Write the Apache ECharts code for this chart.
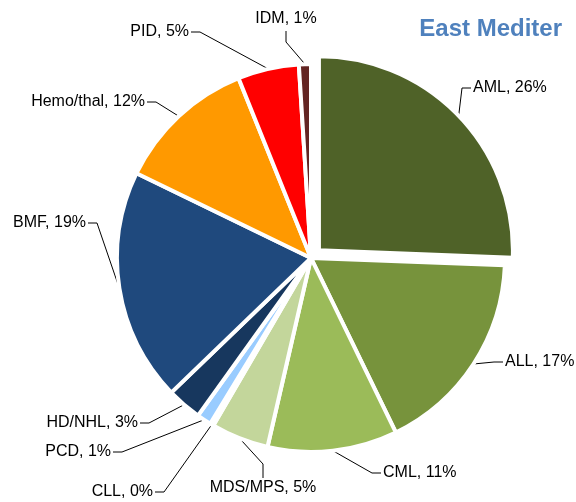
<!DOCTYPE html>
<html>
<head>
<meta charset="utf-8">
<script src="https://cdn.jsdelivr.net/npm/echarts@6/dist/echarts.min.js"></script>
<style>
  html, body { margin: 0; padding: 0; background: #fff; }
  #chart { width: 576px; height: 502px; }
</style>
</head>
<body>
<div id="chart"></div>
<script>
  // slice shares (percent of transplants), clockwise from 12 o'clock
  var categories = ["AML", "ALL", "CML", "MDS/MPS", "CLL", "PCD", "HD/NHL", "BMF", "Hemo/thal", "PID", "IDM"];
  var shares = [25.6, 17.2, 10.8, 4.8, 0.3, 1.2, 2.9, 19.4, 11.7, 5.1, 1.0];
  var sliceColors = ["#4F6228", "#77933C", "#9BBB59", "#C3D69B", "#D7E4BD", "#99CCFF",
                     "#17375E", "#1F497D", "#FF9900", "#FF0000", "#632523"];
  var explodedSlice = "AML";

  // where each label sits (text anchor), and which side the leader comes from
  var labelAnchors = {
    "AML":       [473, 88, "left"],
    "ALL":       [505, 362, "left"],
    "CML":       [383, 473, "left"],
    "MDS/MPS":   [263, 488, "below"],
    "CLL":       [153, 492, "right"],
    "PCD":       [111, 452, "right"],
    "HD/NHL":    [138, 423, "right"],
    "BMF":       [86, 223, "right"],
    "Hemo/thal": [145, 102, "right"],
    "PID":       [189, 32, "right"],
    "IDM":       [286, 19, "above"]
  };

  var CX = 311, CY = 258, R = 194, EXPLODE = 11;

  var chart = echarts.init(document.getElementById("chart"), null, { renderer: "canvas" });

  // exploded slice: its own pie, centre pushed out along the slice's mid angle
  var total = shares.reduce(function (a, b) { return a + b; }, 0);
  var exIdx = categories.indexOf(explodedSlice);
  var before = shares.slice(0, exIdx).reduce(function (a, b) { return a + b; }, 0);
  var midRad = (before + shares[exIdx] / 2) / total * 2 * Math.PI;
  var exCenter = [CX + EXPLODE * Math.sin(midRad), CY - EXPLODE * Math.cos(midRad)];

  var hidden = {
    itemStyle: { color: "none", borderWidth: 0 },
    label: { show: false },
    labelLine: { show: false }
  };

  function buildData(showExploded) {
    return categories.map(function (c, i) {
      var item = { name: c, value: shares[i], itemStyle: { color: sliceColors[i] } };
      if ((c === explodedSlice) !== showExploded) {
        item.itemStyle = hidden.itemStyle;
        item.label = hidden.label;
        item.labelLine = hidden.labelLine;
      }
      return item;
    });
  }

  function placeLabel(params) {
    var a = labelAnchors[categories[params.dataIndex]];
    if (!a) return {};
    var x = a[0], y = a[1], side = a[2];
    var p0 = params.labelLinePoints && params.labelLinePoints[0];
    var end, corner, align = side;
    if (side === "left") { end = [x - 2, y]; corner = [x - 11, y]; }
    else if (side === "right") { end = [x + 2, y]; corner = [x + 11, y]; }
    else if (side === "below") { align = "center"; end = [x, y - 10]; corner = [x, y - 24]; }
    else { align = "center"; end = [x, y + 12]; corner = [x, y + 23]; }
    var out = { x: x, y: y, align: align, verticalAlign: "middle" };
    if (p0) out.labelLinePoints = [p0, corner, end];
    return out;
  }

  function pieSeries(center, data) {
    return {
      type: "pie",
      center: center,
      radius: R,
      startAngle: 90,
      clockwise: true,
      avoidLabelOverlap: false,
      emphasis: { disabled: true },
      itemStyle: { borderColor: "#fff", borderWidth: 4 },
      label: {
        show: true,
        position: "outside",
        color: "#000",
        fontSize: 16,
        width: 140,
        overflow: "none",
        fontFamily: "Liberation Sans, Arial, sans-serif",
        formatter: function (p) { return p.name + ", " + Math.round(p.percent) + "%"; }
      },
      labelLine: {
        show: true,
        length: 10,
        length2: 10,
        lineStyle: { color: "#000", width: 1 }
      },
      labelLayout: placeLabel,
      data: data
    };
  }

  chart.setOption({
    animation: false,
    title: {
      text: "East Mediter",
      right: 9,
      top: 12,
      textStyle: { color: "#4F81BD", fontSize: 24, fontWeight: "bold", fontFamily: "Liberation Sans, Arial, sans-serif" }
    },
    series: [
      pieSeries([CX, CY], buildData(false)),
      pieSeries(exCenter, buildData(true))
    ]
  });
</script>
</body>
</html>
